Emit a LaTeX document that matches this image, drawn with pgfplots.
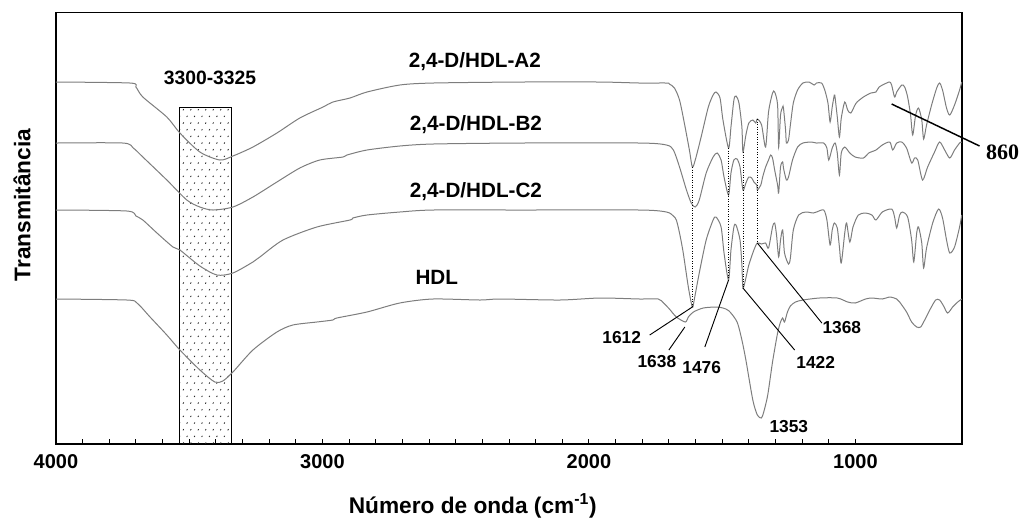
\documentclass[border=0pt]{standalone}
\usepackage{fontspec}
\setmainfont{Liberation Sans}
\newfontfamily\timesbold{Liberation Serif}
\usepackage{pgfplots}
\pgfplotsset{compat=1.18}
\usetikzlibrary{patterns.meta}

\definecolor{spec}{RGB}{125,125,125}
\pgfplotsset{spectrum/.style={color=spec, line width=0.75pt, mark=none, smooth, tension=0.45}}

% small slanted specks, staggered, for the shaded band
\tikzdeclarepattern{
  name=specks,
  type=uncolored,
  bottom left={(-1pt,-1pt)},
  top right={(6.6pt,11pt)},
  tile size={(5.6pt,10pt)},
  code={
    \draw[line width=0.6pt] (0pt,0pt) -- (0.6pt,0.9pt);
    \draw[line width=0.6pt] (2.8pt,5pt) -- (3.4pt,5.9pt);
  }
}

\begin{document}
\begin{tikzpicture}
\useasboundingbox (-42pt,-54.75pt) rectangle (730.5pt,333pt);
\begin{axis}[
  at={(0,0)}, anchor=south west,
  scale only axis, width=679.5pt, height=323.6pt,
  x dir=reverse, xmin=600, xmax=4000, ymin=0, ymax=431.5,
  xtick={1000,2000,3000,4000}, minor x tick num=9,
  xtick pos=left, ytick=\empty,
  tick align=inside,
  major tick length=4pt, minor tick length=3.5pt,
  axis line style={line width=0.9pt},
  every tick/.style={black, line width=0.7pt},
  /pgf/number format/assume math mode=true,
  /pgf/number format/set thousands separator={},
  xticklabel style={font=\fontsize{15}{18}\selectfont\bfseries, yshift=-4.5pt},
  xlabel={Número de onda (cm\textsuperscript{-1})},
  xlabel style={font=\fontsize{17}{20}\selectfont\bfseries, at={(rel axis cs:0.46,0)}, anchor=base, yshift=-52pt},
  ylabel={Transmitância},
  ylabel style={font=\fontsize{17}{20}\selectfont\bfseries, at={([xshift=-25.5pt]rel axis cs:0,0.554)}, anchor=center},
  clip=false,
]

% shaded O-H band
\draw[line width=0.75pt, pattern=specks, pattern color=black!85] (axis cs:3535,0) rectangle (axis cs:3340,337);

% 2,4-D/HDL-A2
\addplot[spectrum] table {
4000 362
3722 361
3700 357
3674 347
3584 327
3535 311
3460 292
3385 284
3336 288
3261 297
3171 311
3085 326
2998 337
2961 342
2897 346
2833 352
2710 359
2586 361
2259 362
1959 362
1809 361
1709 361
1698 360
1679 356
1660 344
1642 321
1623 294
1612 277
1601 284
1579 307
1552 337
1534 349
1523 352
1508 346
1497 324
1476 296
1467 317
1456 344
1448 348
1437 341
1426 317
1422 292
1411 309
1400 321
1385 324
1374 321
1368 325
1352 319
1337 297
1326 332
1311 351
1303 352
1292 339
1288 297
1281 329
1273 337
1270 336
1262 314
1259 301
1251 304
1244 319
1233 341
1217 354
1197 361
1174 362
1155 359
1146 361
1127 361
1115 354
1103 341
1095 322
1087 337
1079 349
1076 346
1068 327
1060 307
1053 326
1040 342
1029 334
1017 331
997 341
970 347
942 351
923 352
911 357
883 361
871 362
864 359
853 347
845 352
826 359
815 357
804 347
793 329
785 309
774 329
763 336
751 324
744 305
733 319
714 339
695 356
684 361
673 354
658 336
646 329
628 339
609 354
601 362
};

% 2,4-D/HDL-B2
\addplot[spectrum] table {
4000 301
3749 301
3710 296
3674 287
3584 264
3509 244
3460 237
3411 234
3336 237
3261 247
3171 262
3085 276
3010 284
2923 287
2908 289
2833 294
2710 298
2586 300
2259 301
1809 301
1709 299
1683 294
1660 277
1634 254
1616 241
1601 237
1586 244
1560 271
1534 287
1519 291
1504 284
1493 267
1476 249
1467 271
1456 284
1444 285
1433 277
1422 254
1411 261
1400 267
1389 266
1381 262
1370 259
1368 254
1355 259
1348 267
1337 277
1326 284
1318 289
1311 286
1303 274
1292 259
1288 251
1281 277
1273 282
1270 276
1259 264
1251 267
1236 284
1217 297
1197 301
1166 302
1146 301
1119 301
1107 296
1100 284
1087 296
1076 301
1068 291
1060 269
1053 291
1040 297
1021 291
1001 287
970 286
950 291
923 294
899 299
871 302
860 294
845 301
826 302
808 296
789 281
778 286
766 284
748 264
729 277
703 292
684 302
665 294
646 286
628 294
609 301
601 302
};

% 2,4-D/HDL-C2
\addplot[spectrum] table {
4000 234
3734 233
3700 228
3674 224
3621 211
3561 197
3535 194
3460 178
3396 169
3336 171
3261 182
3235 187
3148 204
3021 217
2897 224
2886 226
2833 229
2710 232
2586 234
2259 234
1809 234
1709 232
1683 228
1672 224
1660 211
1646 191
1627 157
1612 137
1605 144
1586 171
1560 204
1534 224
1523 227
1504 217
1493 191
1476 164
1467 194
1456 217
1448 219
1433 204
1426 179
1422 156
1411 166
1400 179
1381 194
1368 201
1352 200
1337 201
1326 196
1311 217
1303 221
1296 209
1288 187
1281 204
1273 214
1266 191
1251 180
1244 186
1233 214
1213 229
1186 232
1158 231
1146 232
1119 234
1107 224
1095 199
1087 214
1079 221
1068 216
1060 197
1053 181
1040 211
1033 221
1021 202
1009 217
989 229
962 231
938 229
923 224
899 232
864 235
853 227
845 216
834 229
823 232
804 227
789 204
781 182
770 211
763 217
751 201
744 176
733 196
710 221
688 235
673 226
658 204
646 191
628 197
609 217
601 229
};

% HDL
\addplot[spectrum] table {
4000 145
3734 144
3696 141
3647 127
3584 109
3535 94
3460 74
3404 62
3374 63
3336 72
3261 94
3171 112
3111 119
3021 122
2961 124
2946 126
2833 132
2710 141
2586 145
2409 144
2334 145
2109 144
1959 146
1809 145
1740 145
1720 141
1698 135
1672 127
1638 122
1627 127
1608 132
1571 136
1523 137
1497 136
1474 133
1444 122
1426 104
1411 84
1385 44
1368 29
1353 26
1344 32
1329 49
1311 82
1292 111
1281 122
1273 126
1266 122
1255 132
1244 138
1225 142
1197 144
1135 146
1068 146
1029 142
1001 141
962 145
938 146
899 145
871 147
845 145
834 142
808 132
789 122
770 117
755 117
740 124
721 134
699 144
684 144
669 138
654 131
635 137
616 142
601 145
};

% band assignments
\draw[black, line width=0.6pt, dash pattern=on 0.6pt off 1.3pt] (axis cs:1612,277) -- (axis cs:1612,137);
\draw[black, line width=0.6pt, dash pattern=on 0.6pt off 1.3pt] (axis cs:1476,296) -- (axis cs:1476,164);
\draw[black, line width=0.6pt, dash pattern=on 0.6pt off 1.3pt] (axis cs:1422,292) -- (axis cs:1422,156);
\draw[black, line width=0.6pt, dash pattern=on 0.6pt off 1.3pt] (axis cs:1368,325) -- (axis cs:1368,201);

\draw[black, line width=0.7pt] (axis cs:1612,137) -- (axis cs:1772,109);
\draw[black, line width=0.7pt] (axis cs:1640,117) -- (axis cs:1700,94);
\draw[black, line width=0.7pt] (axis cs:1476,164) -- (axis cs:1565,97);
\draw[black, line width=0.7pt] (axis cs:1422,156) -- (axis cs:1228,94);
\draw[black, line width=0.7pt] (axis cs:1368,201) -- (axis cs:1126,121);
\draw[black, line width=1.1pt] (axis cs:864,340) -- (axis cs:534,298);

\begin{scope}[every node/.style={font=\fontsize{13}{15}\selectfont\bfseries}]
\node at (axis cs:1877,106) {1612};
\node at (axis cs:1745,82) {1638};
\node at (axis cs:1577,76) {1476};
\node at (axis cs:1149,82) {1422};
\node at (axis cs:1051,116) {1368};
\node at (axis cs:1250,17) {1353};
\end{scope}
\node[font=\fontsize{14.5}{17}\selectfont\bfseries] at (axis cs:3422,366) {3300-3325};
\node[font=\fontsize{16.5}{19}\selectfont\timesbold\bfseries] at (axis cs:448,292) {860};

\begin{scope}[every node/.style={font=\fontsize{15.5}{18}\selectfont\bfseries}]
\node at (axis cs:2428,382) {2,4-D/HDL-A2};
\node at (axis cs:2424,319) {2,4-D/HDL-B2};
\node at (axis cs:2424,252) {2,4-D/HDL-C2};
\node at (axis cs:2571,167) {HDL};
\end{scope}

\end{axis}
\end{tikzpicture}
\end{document}
